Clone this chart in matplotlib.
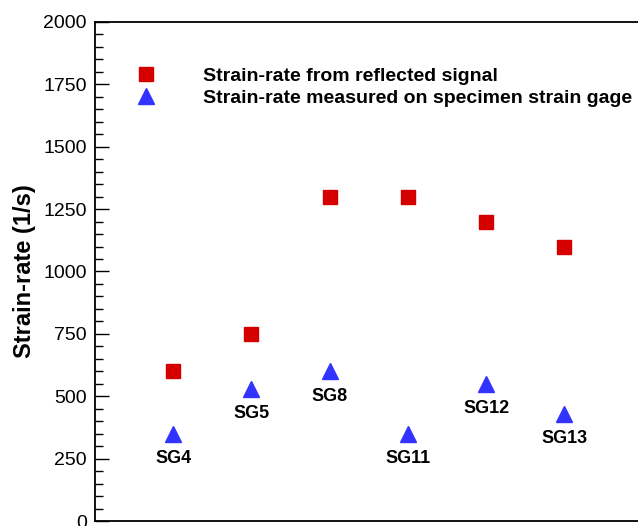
import numpy as np
import matplotlib
matplotlib.use("Agg")
import matplotlib.pyplot as plt
from matplotlib.ticker import MultipleLocator

plt.rcParams['font.family'] = ['Liberation Sans', 'DejaVu Sans']

gages = ['SG4', 'SG5', 'SG8', 'SG11', 'SG12', 'SG13']
x_pos = [1, 2, 3, 4, 5, 6]
rate_reflected = [600, 750, 1300, 1300, 1200, 1100]
rate_gage = [350, 530, 600, 350, 550, 430]

fig = plt.figure(figsize=(6.38, 5.26), dpi=100)
ax = fig.add_axes([0.149, 0.0095, 0.858, 0.9487])

ax.plot(x_pos, rate_reflected, 's', color='#d40000', ms=9.5, ls='none',
        label='Strain-rate from reflected signal')
ax.plot(x_pos, rate_gage, '^', color='#3333ff', ms=11, ls='none',
        label='Strain-rate measured on specimen strain gage')

for x, y, name in zip(x_pos, rate_gage, gages):
    ax.annotate(name, (x, y), xytext=(0, -18), textcoords='offset points',
                ha='center', va='center', fontsize=13, fontweight='bold')

ax.set_xlim(0, 7)
ax.set_ylim(0, 2000)
ax.yaxis.set_major_locator(MultipleLocator(250))
ax.yaxis.set_minor_locator(MultipleLocator(50))
ax.tick_params(axis='y', which='major', direction='in', length=10, width=1,
               labelsize=14, pad=6)
ax.tick_params(axis='y', which='minor', direction='in', length=6, width=1)
ax.set_xticks([])
ax.spines['right'].set_visible(False)
for s in ['left', 'bottom', 'top']:
    ax.spines[s].set_linewidth(1.3)

ax.set_ylabel('Strain-rate (1/s)', fontsize=17, fontweight='bold', labelpad=5)

leg = ax.legend(loc='upper left', bbox_to_anchor=(0.075, 0.910), frameon=False,
                borderpad=0, borderaxespad=0,
                handletextpad=2.45, handlelength=1.0, labelspacing=0.25,
                prop={'weight': 'bold', 'size': 14})

fig.savefig('out.png', dpi=100)
